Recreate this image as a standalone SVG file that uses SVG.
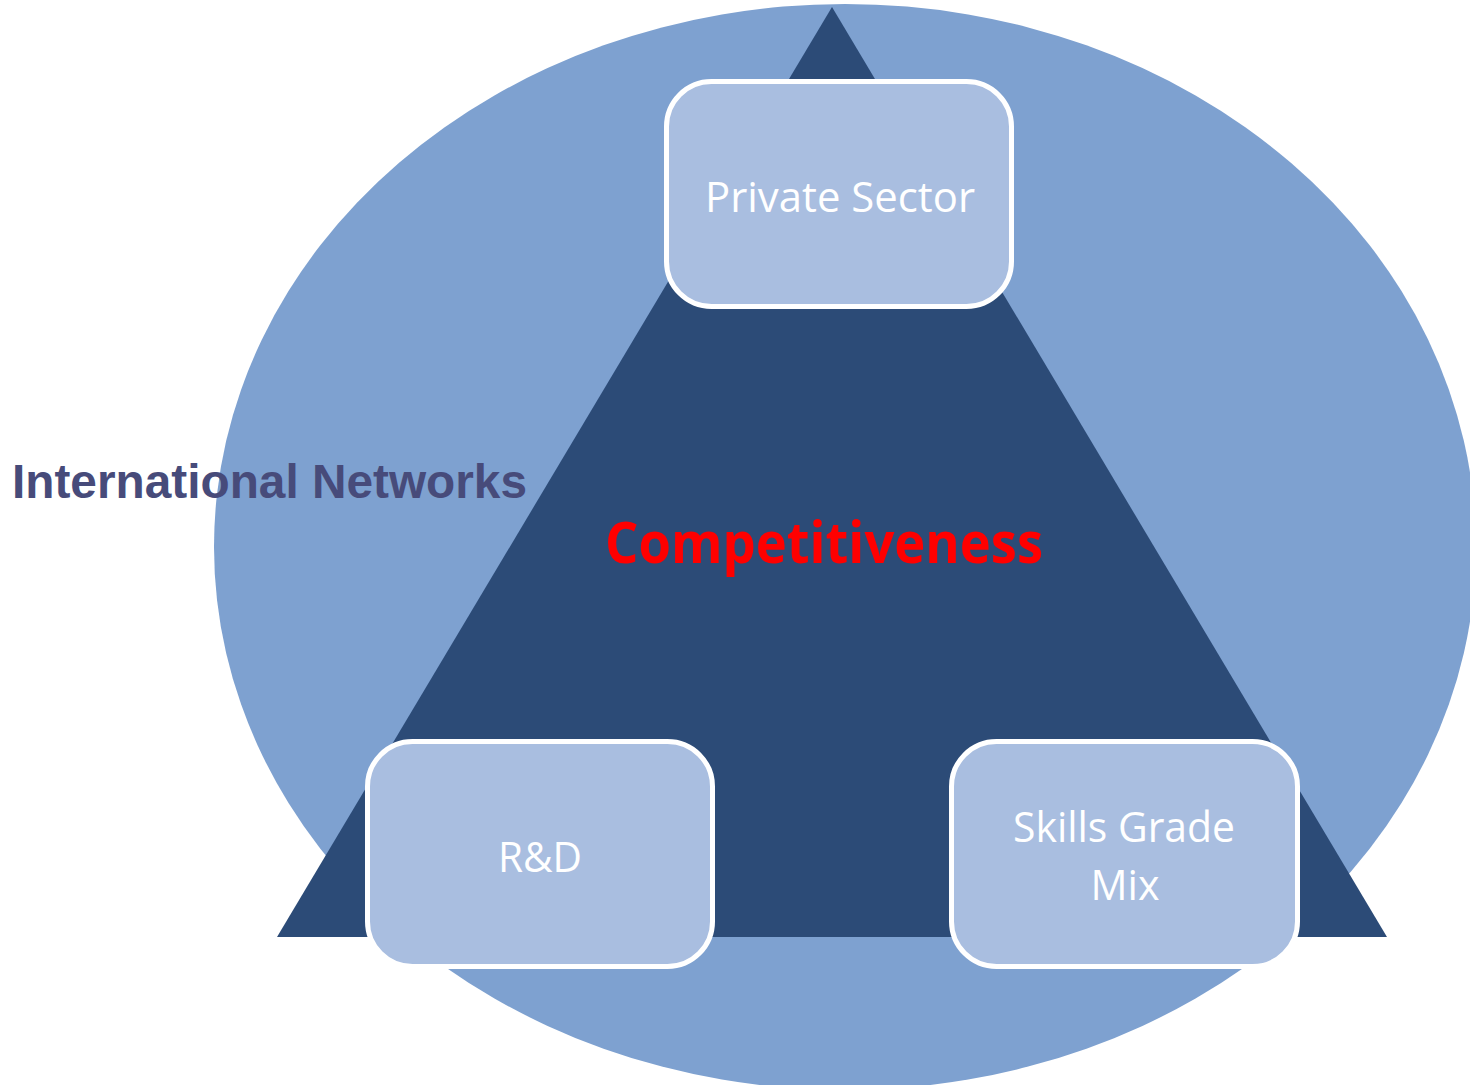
<svg xmlns="http://www.w3.org/2000/svg" width="1470" height="1085" viewBox="0 0 1470 1085">
<style>
.box{fill:#a9bee0;stroke:#ffffff;stroke-width:5}
.lbl{font-family:"Open Sans","Noto Sans",sans-serif;font-size:42px;fill:#ffffff;text-anchor:middle}
</style>
<rect width="1470" height="1085" fill="#ffffff"/>
<g id="background">
<ellipse cx="845" cy="547" rx="631" ry="543" fill="#7ea1d0"/>
<polygon points="832,7 277,937 1387,937" fill="#2c4b77"/>
</g>
<g id="connectors"></g>
<g id="international-networks">
<text x="12" y="498" font-family="'Liberation Sans',Arial,sans-serif" font-weight="bold" font-size="48" fill="#474b7a" textLength="515" lengthAdjust="spacingAndGlyphs">International Networks</text>
</g>
<g id="competitiveness">
<text x="824" y="563" font-family="'Open Sans','Noto Sans',sans-serif" font-weight="bold" font-size="57" fill="#ff0000" text-anchor="middle" textLength="438" lengthAdjust="spacingAndGlyphs">Competitiveness</text>
</g>
<g id="private-sector">
<rect class="box" x="666.5" y="81.5" width="345" height="225" rx="45"/>
<text class="lbl" x="840" y="212" textLength="270" lengthAdjust="spacingAndGlyphs">Private Sector</text>
</g>
<g id="rd">
<rect class="box" x="367.5" y="741.5" width="345" height="225" rx="45"/>
<text class="lbl" x="540" y="872" textLength="84" lengthAdjust="spacingAndGlyphs">R&amp;D</text>
</g>
<g id="skills-grade-mix">
<rect class="box" x="951.5" y="741.5" width="346" height="225" rx="45"/>
<text class="lbl" x="1124" y="842" textLength="222" lengthAdjust="spacingAndGlyphs">Skills Grade</text>
<text class="lbl" x="1125" y="900" textLength="69" lengthAdjust="spacingAndGlyphs">Mix</text>
</g>
</svg>
